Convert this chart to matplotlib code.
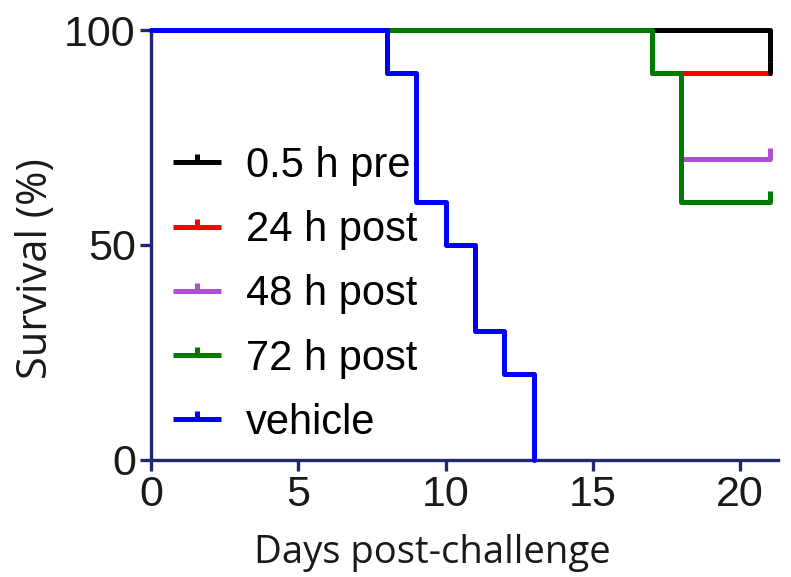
import matplotlib.pyplot as plt
from matplotlib.path import Path

# Kaplan-Meier step data (day, survival %)
days_pre05 = [0, 21, 21]
surv_pre05 = [100, 100, 90]
days_post24 = [0, 17, 17, 21]
surv_post24 = [100, 100, 90, 90]
days_post48 = [0, 17, 17, 18, 18, 21]
surv_post48 = [100, 100, 90, 90, 70, 70]
days_post72 = [0, 17, 17, 18, 18, 21]
surv_post72 = [100, 100, 90, 90, 60, 60]
days_vehicle = [0, 8, 8, 9, 9, 10, 10, 11, 11, 12, 12, 13, 13]
surv_vehicle = [100, 100, 90, 90, 60, 60, 50, 50, 30, 30, 20, 20, 0]

labels = ['0.5 h pre', '24 h post', '48 h post', '72 h post', 'vehicle']
colors = ['black', '#ff0000', '#b04fd6', '#007a00', '#0000ff']
axis_color = '#1f2a6e'
text_color = '#1a1a1a'

plt.rcParams['font.family'] = ['Liberation Sans', 'DejaVu Sans']

fig = plt.figure(figsize=(7.91, 5.77), dpi=100)
ax = fig.add_axes([0.191, 0.203, 0.793, 0.745])

# censor tick: short vertical stroke pointing up
tick = Path([(0, 0), (0, 1)], [Path.MOVETO, Path.LINETO])

series = [
    (days_pre05, surv_pre05),
    (days_post24, surv_post24),
    (days_post48, surv_post48),
    (days_post72, surv_post72),
    (days_vehicle, surv_vehicle),
]
zorders = [3, 2, 2, 4, 5]
lw = 3.6

handles = []
for (d, s), lab, c, z in zip(series, labels, colors, zorders):
    ax.plot(d, s, color=c, lw=lw, solid_capstyle='round',
            solid_joinstyle='round', zorder=z, clip_on=False)
    if lab != 'vehicle':
        ax.plot([d[-1]], [s[-1]], marker=tick, ms=16, mew=lw, color=c,
                zorder=z + 1, linestyle='none', clip_on=False)
    h, = ax.plot([], [], color=c, lw=lw, marker=tick, ms=11, mew=lw,
                 solid_capstyle='butt')
    handles.append(h)

ax.set_xlim(0, 21.3)
ax.set_ylim(0, 100)
ax.set_xticks([0, 5, 10, 15, 20])
ax.set_yticks([0, 50, 100])

for side in ['top', 'right']:
    ax.spines[side].set_visible(False)
for side in ['left', 'bottom']:
    ax.spines[side].set_color(axis_color)
    ax.spines[side].set_linewidth(2.4)
ax.tick_params(axis='both', colors=axis_color, width=2.4, length=8,
               labelsize=31, labelcolor=text_color, pad=3)

ax.set_ylabel('Survival (%)', fontsize=30, color=text_color,
              family=['Open Sans', 'DejaVu Sans'])
ax.yaxis.set_label_coords(-0.15, 0.444)
ax.set_xlabel('Days post-challenge', fontsize=27.5, color=text_color,
              family=['Open Sans', 'DejaVu Sans'])
ax.xaxis.set_label_coords(0.448, -0.172)

leg = ax.legend(handles, labels, loc='center left',
                bbox_to_anchor=(-0.011, 0.385), frameon=False, fontsize=30,
                handlelength=1.15, handletextpad=0.6, labelspacing=0.58,
                numpoints=1, borderaxespad=0.3)

fig.savefig('out.png', dpi=100)
